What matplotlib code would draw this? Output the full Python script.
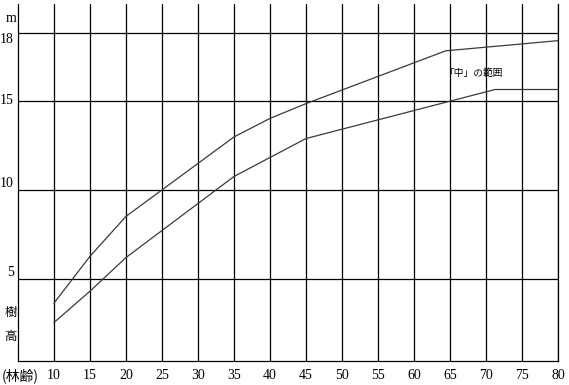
import numpy as np
import matplotlib
matplotlib.use("Agg")
import matplotlib.pyplot as plt

# 林齢 (年) と樹高 (m): 「中」の範囲の上限と下限
upper_age = [10, 15, 20, 35, 40, 45, 64.4, 80]
upper_h = [3.63, 6.26, 8.5, 12.96, 14.0, 14.83, 17.2, 17.65]
lower_age = [10, 15, 20, 35, 45, 71.25, 80]
lower_h = [2.54, 4.3, 6.19, 10.74, 12.87, 15.49, 15.49]

x_ticks = list(range(10, 85, 5))
y_ticks = [5, 10, 15, 18]

SERIF = ["Liberation Serif", "DejaVu Serif"]
CJK = ["Noto Sans CJK JP", "DejaVu Sans"]

# 元の図は 15m より上の目盛りが間延びしているので区分線形の尺度にする
LOW, HIGH = 17.85, 22.67


def fwd(y):
    y = np.asarray(y, dtype=float)
    return np.where(y <= 15, y * LOW, 15 * LOW + (y - 15) * HIGH)


def inv(v):
    v = np.asarray(v, dtype=float)
    return np.where(v <= 15 * LOW, v / LOW, 15 + (v - 15 * LOW) / HIGH)


fig = plt.figure(figsize=(5.69, 3.85), dpi=100)
ax = fig.add_axes([18 / 569, 24 / 385, 540 / 569, 357 / 385])
ax.set_yscale("function", functions=(fwd, inv))
ax.set_xlim(5, 80)
ax.set_ylim(0.38, 19.27)

ax.plot(upper_age, upper_h, color="#3a3a3a", lw=0.9)
ax.plot(lower_age, lower_h, color="#3a3a3a", lw=0.9)

ax.set_xticks(x_ticks)
ax.set_xticklabels([str(v) for v in x_ticks], family=SERIF, fontsize=10)
ax.set_yticks(y_ticks)
ax.set_yticklabels([str(v) for v in y_ticks], family=SERIF, fontsize=10)
ax.yaxis.set_minor_locator(matplotlib.ticker.NullLocator())
ax.tick_params(length=0, pad=3)
ax.tick_params(axis="x", pad=6)
for lab, va in zip(ax.get_yticklabels(), ["bottom", "bottom", "center", "top"]):
    lab.set_va(va)

ax.grid(True, color="black", lw=0.9)
ax.set_axisbelow(True)
ax.spines["top"].set_visible(False)
for s in ["left", "bottom", "right"]:
    ax.spines[s].set_linewidth(0.9)

ytr = ax.get_yaxis_transform()
ax.text(-0.013, 18.64, "m", transform=ytr,
        ha="center", va="center", family=SERIF, fontsize=10)
ax.text(-0.013, 3.12, "樹", transform=ytr,
        ha="center", va="center", family=CJK, fontsize=9)
ax.text(-0.013, 1.78, "高", transform=ytr,
        ha="center", va="center", family=CJK, fontsize=9)
ax.text(-0.03, -0.04, "(林齢)", transform=ax.transAxes,
        ha="left", va="center", family=CJK, fontsize=10)
ax.text(64.3, 16.2, "「中」の範囲", ha="left", va="center",
        family=CJK, fontsize=7)

fig.savefig("out.png", dpi=100)
